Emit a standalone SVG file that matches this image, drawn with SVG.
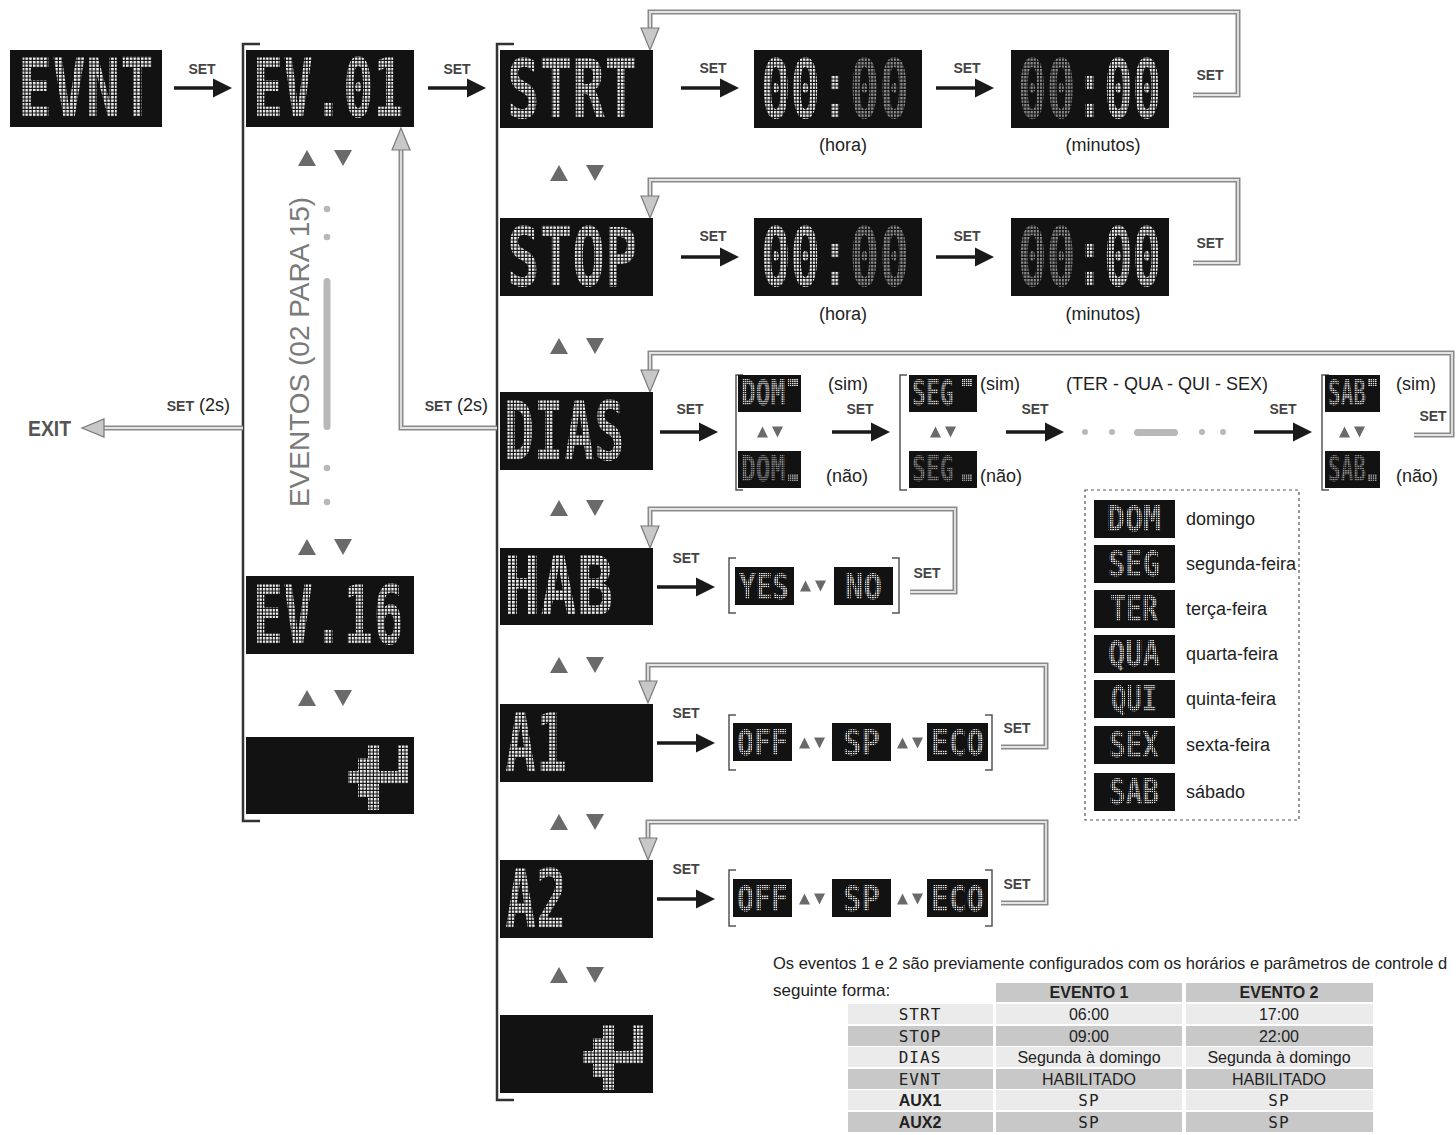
<svg xmlns="http://www.w3.org/2000/svg" width="1456" height="1135" viewBox="0 0 1456 1135">
<defs>
<style>
.lcd{fill:#121212}
.big{font-family:"DejaVu Sans Mono",monospace;font-weight:bold;font-size:82px;fill:url(#dwb)}
.sm{font-family:"DejaVu Sans Mono",monospace;font-weight:bold;font-size:35px;fill:url(#dsb)}
.smg{font-family:"DejaVu Sans Mono",monospace;font-weight:bold;font-size:35px;fill:url(#dsgb)}
.lbl{font-family:"Liberation Sans",Arial,sans-serif;font-size:18px;fill:#222}
.set{font-family:"Liberation Sans",Arial,sans-serif;font-weight:bold;font-size:14px;fill:#444;text-anchor:middle}
.setsp{font-family:"Liberation Sans",Arial,sans-serif;font-weight:bold;font-size:14px;fill:#444}
.go{fill:none;stroke:#8a8a8a;stroke-width:5}
.gi{fill:none;stroke:#e4e4e4;stroke-width:1.8}
.brk{fill:none;stroke:#333;stroke-width:2.5}
.sbrk{fill:none;stroke:#555;stroke-width:1.5}
.gh{fill:#c8c8c8;stroke:#7a7a7a;stroke-width:1.2}
.tri{fill:#6a6a6a}
.gdot{fill:#b8b8b8}
.tc{font-family:"Liberation Sans",Arial,sans-serif;font-size:16px;fill:#222;text-anchor:middle}
.tb{font-family:"Liberation Sans",Arial,sans-serif;font-size:16px;font-weight:bold;fill:#222;text-anchor:middle}
.tl{font-family:"DejaVu Sans Mono",monospace;font-size:16px;fill:#222;text-anchor:middle;letter-spacing:1px}
.lt{fill:#ebebeb}
.dk{fill:#c8c8c8}
</style>
<pattern id="dw" patternUnits="userSpaceOnUse" width="3.5" height="3.5"><rect width="2.4" height="2.4" fill="#f4f4f4"/></pattern>
<pattern id="dwb" patternUnits="userSpaceOnUse" width="5.4" height="3.5"><rect width="3.7" height="2.4" fill="#f4f4f4"/></pattern>
<pattern id="dgb" patternUnits="userSpaceOnUse" width="5.4" height="3.5"><rect width="3.7" height="2.4" fill="#8c8c8c"/></pattern>
<pattern id="ds" patternUnits="userSpaceOnUse" width="2.2" height="2.2"><rect width="1.5" height="1.5" fill="#e2e2e2"/></pattern>
<pattern id="dsg" patternUnits="userSpaceOnUse" width="2.2" height="2.2"><rect width="1.5" height="1.5" fill="#9a9a9a"/></pattern>
<pattern id="dsb" patternUnits="userSpaceOnUse" width="2.8" height="2.2"><rect width="1.9" height="1.5" fill="#e2e2e2"/></pattern>
<pattern id="dsgb" patternUnits="userSpaceOnUse" width="2.8" height="2.2"><rect width="1.9" height="1.5" fill="#9a9a9a"/></pattern>
<g id="ba"><line x1="0" y1="0" x2="42" y2="0" stroke="#1a1a1a" stroke-width="3.5"/><polygon points="39,-9.5 58,0 39,9.5" fill="#1a1a1a"/></g>
<g id="ud" class="tri"><polygon points="-27,8 -9,8 -18,-8"/><polygon points="9,-8 27,-8 18,8"/></g>
<g id="sud" class="tri"><polygon points="-13,5.5 -2,5.5 -7.5,-5.5"/><polygon points="2,-5.5 13,-5.5 7.5,5.5"/></g>
<path id="gh" class="gh" d="M-9,-22 L9,-22 L0,0 Z"/>
<path id="ret" fill="url(#dw)" d="M603,1025h11v26h-11z M633,1025h10v39h-10z M593,1038h21v13h-21z M583,1051h60v13h-60z M593,1064h21v13h-21z M603,1077h11v13h-11z"/>
</defs>
<rect width="1456" height="1135" fill="#ffffff"/>

<!-- brackets -->
<g id="brackets">
<path class="brk" d="M260,44 H243 V821 H260"/>
<path class="brk" d="M514,44 H497 V1100 H514"/>
<path class="sbrk" d="M743,375 H736 V490 H743"/>
<path class="sbrk" d="M907,375 H900 V490 H907"/>
<path class="sbrk" d="M1329,375 H1322 V490 H1329"/>
<path class="sbrk" d="M736,558 H729 V613 H736"/>
<path class="sbrk" d="M892,558 H899 V613 H892"/>
<path class="sbrk" d="M736,715 H729 V770 H736"/>
<path class="sbrk" d="M985,715 H992 V770 H985"/>
<path class="sbrk" d="M736,870 H729 V926 H736"/>
<path class="sbrk" d="M985,870 H992 V926 H985"/>
</g>

<!-- connectors -->
<g id="connectors">
<use href="#ba" x="174" y="88"/>
<use href="#ba" x="428" y="88"/>
<use href="#ba" x="681" y="88"/>
<use href="#ba" x="936" y="88"/>
<use href="#ba" x="681" y="257"/>
<use href="#ba" x="936" y="257"/>
<use href="#ba" x="660" y="432"/>
<use href="#ba" x="832" y="432"/>
<use href="#ba" x="1006" y="432"/>
<use href="#ba" x="1254" y="432"/>
<use href="#ba" x="657" y="587"/>
<use href="#ba" x="657" y="743"/>
<use href="#ba" x="657" y="899"/>

<path class="go" d="M1193,95 H1238 V12 H650 V28"/><path class="gi" d="M1193,95 H1238 V12 H650 V28"/>
<path class="go" d="M1193,263 H1238 V180 H650 V196"/><path class="gi" d="M1193,263 H1238 V180 H650 V196"/>
<path class="go" d="M1414,435 H1452 V353 H650 V370"/><path class="gi" d="M1414,435 H1452 V353 H650 V370"/>
<path class="go" d="M910,592 H955 V509 H650 V526"/><path class="gi" d="M910,592 H955 V509 H650 V526"/>
<path class="go" d="M1001,747 H1046 V665 H648 V681"/><path class="gi" d="M1001,747 H1046 V665 H648 V681"/>
<path class="go" d="M1001,903 H1046 V822 H648 V838"/><path class="gi" d="M1001,903 H1046 V822 H648 V838"/>
<path class="go" d="M497,428 H401 V150"/><path class="gi" d="M497,428 H401 V150"/>
<path class="go" d="M243,428 H102"/><path class="gi" d="M243,428 H102"/>
<use href="#gh" transform="translate(650,50)"/>
<use href="#gh" transform="translate(650,218)"/>
<use href="#gh" transform="translate(650,392)"/>
<use href="#gh" transform="translate(650,548)"/>
<use href="#gh" transform="translate(648,703)"/>
<use href="#gh" transform="translate(648,860)"/>
<use href="#gh" transform="translate(401,128) rotate(180)"/>
<use href="#gh" transform="translate(82,428) rotate(90)"/>

<text class="set" x="202" y="74">SET</text>
<text class="set" x="457" y="74">SET</text>
<text class="set" x="713" y="73">SET</text>
<text class="set" x="967" y="73">SET</text>
<text class="set" x="1210" y="80">SET</text>
<text class="set" x="713" y="241">SET</text>
<text class="set" x="967" y="241">SET</text>
<text class="set" x="1210" y="248">SET</text>
<text class="set" x="690" y="414">SET</text>
<text class="set" x="860" y="414">SET</text>
<text class="set" x="1035" y="414">SET</text>
<text class="set" x="1283" y="414">SET</text>
<text class="set" x="1433" y="421">SET</text>
<text class="set" x="686" y="563">SET</text>
<text class="set" x="927" y="578">SET</text>
<text class="set" x="686" y="718">SET</text>
<text class="set" x="1017" y="733">SET</text>
<text class="set" x="686" y="874">SET</text>
<text class="set" x="1017" y="889">SET</text>
<text class="lbl" x="230" y="411" text-anchor="end"><tspan class="setsp">SET</tspan> (2s)</text>
<text class="lbl" x="488" y="411" text-anchor="end"><tspan class="setsp">SET</tspan> (2s)</text>

<use href="#ud" x="325" y="158"/>
<use href="#ud" x="325" y="547"/>
<use href="#ud" x="325" y="698"/>
<use href="#ud" x="577" y="173"/>
<use href="#ud" x="577" y="346"/>
<use href="#ud" x="577" y="508"/>
<use href="#ud" x="577" y="665"/>
<use href="#ud" x="577" y="822"/>
<use href="#ud" x="577" y="975"/>
</g>

<g id="n-exit"><text transform="translate(28,436) scale(0.88,1)" style="font-family:'Liberation Sans',Arial,sans-serif;font-weight:bold;font-size:22px;fill:#555">EXIT</text></g>

<g id="n-evnt"><rect class="lcd" x="10" y="50" width="152" height="77"/><text class="big" transform="translate(18,117) scale(0.69,1)">EVNT</text></g>
<g id="n-ev01"><rect class="lcd" x="246" y="50" width="168" height="77"/><text class="big" transform="translate(253,117) scale(0.61,1)">EV.01</text></g>

<g id="n-eventos">
<text transform="translate(309,352) rotate(-90)" text-anchor="middle" style="font-family:'Liberation Sans',Arial,sans-serif;font-size:28px;fill:#7a7a7a">EVENTOS (02 PARA 15)</text>
<circle class="gdot" cx="327" cy="209" r="3.3"/><circle class="gdot" cx="327" cy="237" r="3.3"/>
<rect class="gdot" x="323.5" y="278" width="7" height="152" rx="3.5"/>
<circle class="gdot" cx="327" cy="468" r="3.3"/><circle class="gdot" cx="327" cy="502" r="3.3"/>
</g>

<g id="n-ev16"><rect class="lcd" x="246" y="576" width="168" height="78"/><text class="big" transform="translate(253,644) scale(0.61,1)">EV.16</text></g>
<g id="n-back1"><rect class="lcd" x="246" y="737" width="168" height="77"/><use href="#ret" transform="translate(-235,-280)"/></g>

<g id="n-strt"><rect class="lcd" x="500" y="50" width="153" height="78"/><text class="big" transform="translate(507,118) scale(0.66,1)">STRT</text></g>
<g id="n-strt-h"><rect class="lcd" x="754" y="50" width="168" height="78"/><text class="big" transform="translate(761,118) scale(0.6,1)">00:<tspan style="fill:url(#dgb)">00</tspan></text><text class="lbl" x="843" y="151" text-anchor="middle">(hora)</text></g>
<g id="n-strt-m"><rect class="lcd" x="1011" y="50" width="158" height="78"/><text class="big" transform="translate(1018,118) scale(0.58,1)"><tspan style="fill:url(#dgb)">00</tspan>:00</text><text class="lbl" x="1103" y="151" text-anchor="middle">(minutos)</text></g>

<g id="n-stop"><rect class="lcd" x="500" y="218" width="153" height="78"/><text class="big" transform="translate(507,286) scale(0.66,1)">STOP</text></g>
<g id="n-stop-h"><rect class="lcd" x="754" y="218" width="168" height="78"/><text class="big" transform="translate(761,286) scale(0.6,1)">00:<tspan style="fill:url(#dgb)">00</tspan></text><text class="lbl" x="843" y="320" text-anchor="middle">(hora)</text></g>
<g id="n-stop-m"><rect class="lcd" x="1011" y="218" width="158" height="78"/><text class="big" transform="translate(1018,286) scale(0.58,1)"><tspan style="fill:url(#dgb)">00</tspan>:00</text><text class="lbl" x="1103" y="320" text-anchor="middle">(minutos)</text></g>

<g id="n-dias"><rect class="lcd" x="500" y="392" width="153" height="78"/><text class="big" transform="translate(504,460) scale(0.61,1)">DIAS</text></g>

<g id="n-dom">
<rect class="lcd" x="738" y="375" width="63" height="37"/><text class="sm" transform="translate(741,405) scale(0.7,1)">DOM</text><rect x="788" y="379" width="10" height="7" fill="url(#ds)"/>
<rect class="lcd" x="738" y="451" width="63" height="37"/><text class="smg" transform="translate(741,481) scale(0.7,1)">DOM</text><rect x="788" y="474" width="10" height="7" fill="url(#dsg)"/>
<use href="#sud" x="770" y="432"/>
<text class="lbl" x="828" y="390">(sim)</text><text class="lbl" x="826" y="482">(não)</text>
</g>
<g id="n-seg">
<rect class="lcd" x="909" y="375" width="68" height="37"/><text class="sm" transform="translate(912,405) scale(0.66,1)">SEG</text><rect x="962" y="379" width="10" height="7" fill="url(#ds)"/>
<rect class="lcd" x="909" y="451" width="68" height="37"/><text class="smg" transform="translate(912,481) scale(0.66,1)">SEG</text><rect x="962" y="474" width="10" height="7" fill="url(#dsg)"/>
<use href="#sud" x="943" y="432"/>
<text class="lbl" x="980" y="390">(sim)</text><text class="lbl" x="980" y="482">(não)</text>
</g>
<g id="n-days-more">
<text class="lbl" x="1066" y="390">(TER - QUA - QUI - SEX)</text>
<circle class="gdot" cx="1085" cy="432" r="3"/><circle class="gdot" cx="1112" cy="432" r="3"/>
<rect class="gdot" x="1134" y="429" width="44" height="7" rx="3.5"/>
<circle class="gdot" cx="1202" cy="432" r="3"/><circle class="gdot" cx="1223" cy="432" r="3"/>
</g>
<g id="n-sab">
<rect class="lcd" x="1325" y="375" width="55" height="37"/><text class="sm" transform="translate(1328,405) scale(0.6,1)">SAB</text><rect x="1368" y="379" width="9" height="7" fill="url(#ds)"/>
<rect class="lcd" x="1325" y="451" width="55" height="37"/><text class="smg" transform="translate(1328,481) scale(0.6,1)">SAB</text><rect x="1368" y="474" width="9" height="7" fill="url(#dsg)"/>
<use href="#sud" x="1352" y="432"/>
<text class="lbl" x="1396" y="390">(sim)</text><text class="lbl" x="1396" y="482">(não)</text>
</g>

<g id="n-legend">
<rect x="1085" y="490" width="214" height="330" fill="none" stroke="#555" stroke-width="1.2" stroke-dasharray="3,3"/>
<rect class="lcd" x="1094" y="500" width="81" height="38"/><text class="sm" text-anchor="middle" transform="translate(1134,531) scale(0.86,1)">DOM</text><text class="lbl" x="1186" y="525">domingo</text>
<rect class="lcd" x="1094" y="545" width="81" height="38"/><text class="sm" text-anchor="middle" transform="translate(1134,576) scale(0.82,1)">SEG</text><text class="lbl" x="1186" y="570">segunda-feira</text>
<rect class="lcd" x="1094" y="590" width="81" height="38"/><text class="sm" text-anchor="middle" transform="translate(1134,621) scale(0.76,1)">TER</text><text class="lbl" x="1186" y="615">terça-feira</text>
<rect class="lcd" x="1094" y="635" width="81" height="38"/><text class="sm" text-anchor="middle" transform="translate(1134,666) scale(0.82,1)">QUA</text><text class="lbl" x="1186" y="660">quarta-feira</text>
<rect class="lcd" x="1094" y="680" width="81" height="38"/><text class="sm" text-anchor="middle" transform="translate(1134,711) scale(0.73,1)">QUI</text><text class="lbl" x="1186" y="705">quinta-feira</text>
<rect class="lcd" x="1094" y="726" width="81" height="38"/><text class="sm" text-anchor="middle" transform="translate(1134,757) scale(0.79,1)">SEX</text><text class="lbl" x="1186" y="751">sexta-feira</text>
<rect class="lcd" x="1094" y="773" width="81" height="38"/><text class="sm" text-anchor="middle" transform="translate(1134,804) scale(0.79,1)">SAB</text><text class="lbl" x="1186" y="798">sábado</text>
</g>

<g id="n-hab"><rect class="lcd" x="500" y="548" width="153" height="77"/><text class="big" transform="translate(504,615) scale(0.74,1)">HAB</text></g>
<g id="n-hab-opt">
<rect class="lcd" x="735" y="567" width="59" height="38"/><text class="sm" transform="translate(739,599) scale(0.79,1)">YES</text>
<use href="#sud" x="813" y="586"/>
<rect class="lcd" x="834" y="567" width="59" height="38"/><text class="sm" transform="translate(845,599) scale(0.88,1)">NO</text>
</g>

<g id="n-a1"><rect class="lcd" x="500" y="704" width="153" height="78"/><text class="big" transform="translate(505,772) scale(0.63,1)">A1</text></g>
<g id="n-a1-opt">
<rect class="lcd" x="733" y="723" width="59" height="38"/><text class="sm" transform="translate(737,755) scale(0.81,1)">OFF</text>
<use href="#sud" x="812" y="743"/>
<rect class="lcd" x="832" y="723" width="59" height="38"/><text class="sm" transform="translate(843,755) scale(0.88,1)">SP</text>
<use href="#sud" x="910" y="743"/>
<rect class="lcd" x="927" y="723" width="61" height="38"/><text class="sm" transform="translate(931,755) scale(0.84,1)">ECO</text>
</g>

<g id="n-a2"><rect class="lcd" x="500" y="860" width="153" height="78"/><text class="big" transform="translate(505,928) scale(0.63,1)">A2</text></g>
<g id="n-a2-opt">
<rect class="lcd" x="733" y="879" width="59" height="38"/><text class="sm" transform="translate(737,911) scale(0.81,1)">OFF</text>
<use href="#sud" x="812" y="899"/>
<rect class="lcd" x="832" y="879" width="59" height="38"/><text class="sm" transform="translate(843,911) scale(0.88,1)">SP</text>
<use href="#sud" x="910" y="899"/>
<rect class="lcd" x="927" y="879" width="61" height="38"/><text class="sm" transform="translate(931,911) scale(0.84,1)">ECO</text>
</g>

<g id="n-back2"><rect class="lcd" x="500" y="1015" width="153" height="78"/><use href="#ret"/></g>

<g id="n-table">
<text class="lbl" x="773" y="969" style="font-size:16.5px">Os eventos 1 e 2 são previamente configurados com os horários e parâmetros de controle d</text>
<text class="lbl" x="773" y="996" style="font-size:17px">seguinte forma:</text>
<rect class="dk" x="996" y="983" width="186" height="19"/><rect class="dk" x="1186" y="983" width="187" height="19"/>
<text class="tb" x="1089" y="998">EVENTO 1</text><text class="tb" x="1279" y="998">EVENTO 2</text>

<rect class="lt" x="848" y="1004" width="145" height="20"/><rect class="lt" x="996" y="1004" width="186" height="20"/><rect class="lt" x="1186" y="1004" width="187" height="20"/>
<text class="tl" x="920" y="1020">STRT</text><text class="tc" x="1089" y="1020">06:00</text><text class="tc" x="1279" y="1020">17:00</text>

<rect class="dk" x="848" y="1026" width="145" height="20"/><rect class="dk" x="996" y="1026" width="186" height="20"/><rect class="dk" x="1186" y="1026" width="187" height="20"/>
<text class="tl" x="920" y="1042">STOP</text><text class="tc" x="1089" y="1042">09:00</text><text class="tc" x="1279" y="1042">22:00</text>

<rect class="lt" x="848" y="1047" width="145" height="20"/><rect class="lt" x="996" y="1047" width="186" height="20"/><rect class="lt" x="1186" y="1047" width="187" height="20"/>
<text class="tl" x="920" y="1063">DIAS</text><text class="tc" x="1089" y="1063">Segunda à domingo</text><text class="tc" x="1279" y="1063">Segunda à domingo</text>

<rect class="dk" x="848" y="1069" width="145" height="20"/><rect class="dk" x="996" y="1069" width="186" height="20"/><rect class="dk" x="1186" y="1069" width="187" height="20"/>
<text class="tl" x="920" y="1085">EVNT</text><text class="tc" x="1089" y="1085">HABILITADO</text><text class="tc" x="1279" y="1085">HABILITADO</text>

<rect class="lt" x="848" y="1090" width="145" height="20"/><rect class="lt" x="996" y="1090" width="186" height="20"/><rect class="lt" x="1186" y="1090" width="187" height="20"/>
<text class="tb" x="920" y="1106">AUX1</text><text class="tl" x="1089" y="1106">SP</text><text class="tl" x="1279" y="1106">SP</text>

<rect class="dk" x="848" y="1112" width="145" height="20"/><rect class="dk" x="996" y="1112" width="186" height="20"/><rect class="dk" x="1186" y="1112" width="187" height="20"/>
<text class="tb" x="920" y="1128">AUX2</text><text class="tl" x="1089" y="1128">SP</text><text class="tl" x="1279" y="1128">SP</text>
</g>
</svg>
